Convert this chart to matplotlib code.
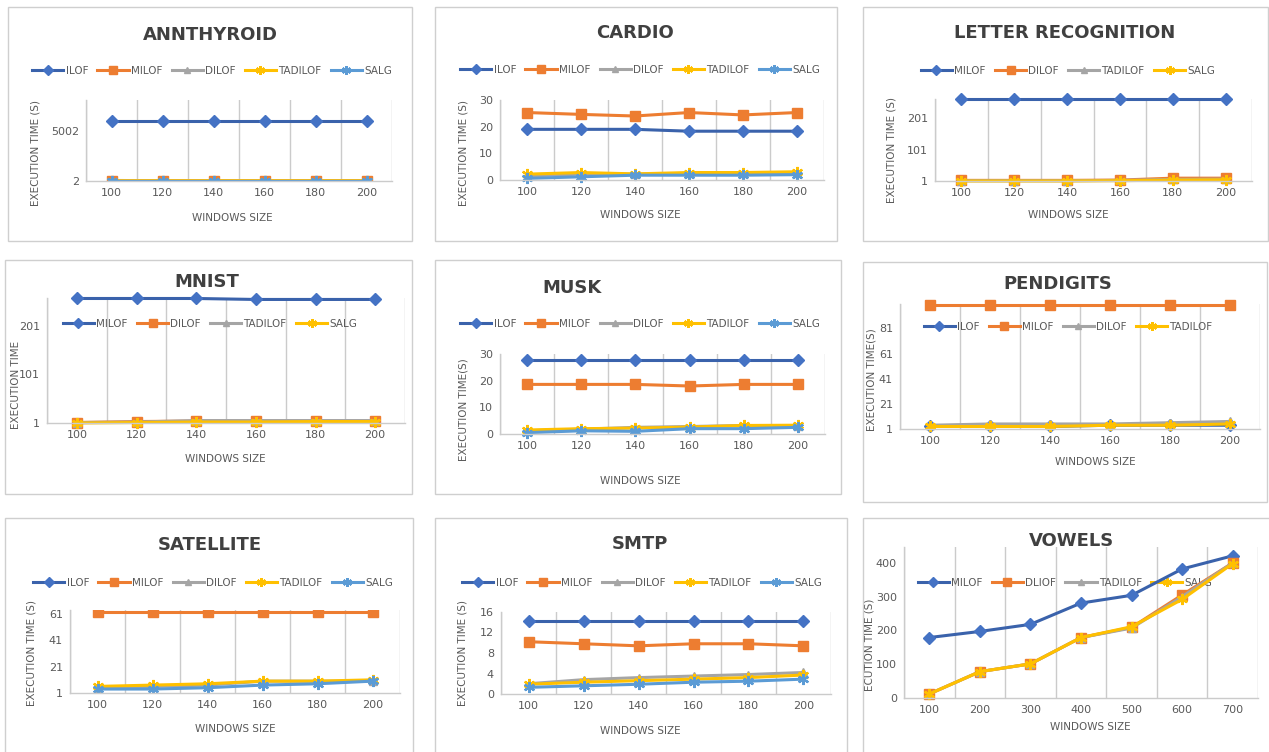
import matplotlib
matplotlib.use("Agg")
import matplotlib.pyplot as plt
from matplotlib.patches import Rectangle

plt.rcParams['font.family'] = ['DejaVu Sans']

W, H = 1269, 752

windows = [100, 120, 140, 160, 180, 200]
vowels_windows = [100, 200, 300, 400, 500, 600, 700]

# ANNTHYROID (SALG falls below the axis minimum, so it is not visible)
ann_ilof = [6000, 6000, 6000, 6000, 6000, 6000]
ann_milof = [40, 30, 30, 30, 30, 30]
ann_dilof = [60, 20, 20, 20, 20, 20]
ann_tadilof = [20, 25, 25, 25, 25, 25]
ann_salg = [1, 1, 1, 1, 1, 1]

# CARDIO
car_ilof = [19.0, 19.0, 19.0, 18.3, 18.3, 18.3]
car_milof = [25.3, 24.6, 24.0, 25.3, 24.4, 25.3]
car_dilof = [1.5, 2.2, 2.2, 2.5, 2.5, 2.6]
car_tadilof = [2.2, 2.8, 2.3, 2.8, 2.8, 3.1]
car_salg = [0.6, 1.2, 1.8, 1.8, 1.8, 2.0]

# LETTER RECOGNITION
let_milof = [261, 261, 261, 261, 261, 261]
let_dilof = [3, 3, 3, 4, 10, 10]
let_tadilof = [2, 2, 2, 3, 6, 7]
let_salg = [1, 1, 1, 2, 4, 5]

# MNIST
mn_milof = [257, 257, 257, 255, 255, 255]
mn_dilof = [2, 4, 5, 5, 5, 5]
mn_tadilof = [2, 3, 6, 6, 6, 6]
mn_salg = [1, 2, 3, 3, 4, 4]

# MUSK
mu_ilof = [27.6, 27.6, 27.6, 27.6, 27.6, 27.6]
mu_milof = [18.6, 18.6, 18.6, 18.0, 18.6, 18.6]
mu_dilof = [1.2, 1.8, 2.5, 2.8, 3.2, 3.0]
mu_tadilof = [1.5, 2.0, 2.2, 2.6, 3.2, 3.3]
mu_salg = [0.5, 1.2, 1.0, 2.0, 2.0, 2.5]

# PENDIGITS
pen_ilof = [3, 3, 3, 4, 4, 4]
pen_milof = [100, 100, 100, 100, 100, 100]
pen_dilof = [4, 5, 5, 5, 6, 7]
pen_tadilof = [3, 3, 3, 4, 4, 5]

# SATELLITE (ILOF is above the axis range, so it is not visible)
sat_ilof = [70, 70, 70, 70, 70, 70]
sat_milof = [62.5, 62.5, 62.5, 62.5, 62.5, 62.5]
sat_dilof = [5, 6, 7, 10, 10, 10]
sat_tadilof = [6, 7, 8, 10, 10, 11]
sat_salg = [4, 4, 5, 7, 8, 10]

# SMTP
sm_ilof = [14.2, 14.2, 14.2, 14.2, 14.2, 14.2]
sm_milof = [10.2, 9.8, 9.4, 9.8, 9.8, 9.4]
sm_dilof = [2.0, 2.8, 3.2, 3.5, 3.8, 4.2]
sm_tadilof = [1.9, 2.3, 2.6, 2.9, 3.2, 3.7]
sm_salg = [1.3, 1.6, 1.9, 2.3, 2.5, 2.9]

# VOWELS
vo_milof = [179, 197, 218, 281, 304, 382, 421]
vo_dilof = [12, 78, 101, 179, 209, 305, 400]
vo_tadilof = [12, 78, 101, 179, 207, 300, 400]
vo_salg = [12, 78, 101, 179, 211, 292, 398]

# excel-like series styles, by series order
styles = [
    dict(color='#3a62ab', marker='D', ms=6, mec='#4472c4', mfc='#4472c4'),
    dict(color='#ed7d31', marker='s', ms=7, mec='#ed7d31', mfc='#ed7d31'),
    dict(color='#a5a5a5', marker='^', ms=6, mec='#a5a5a5', mfc='#a5a5a5'),
    dict(color='#ffc000', marker=(6, 2, 0), ms=8, mec='#ffc000', mew=1.6),
    dict(color='#5b9bd5', marker=(6, 2, 0), ms=8, mec='#5b9bd5', mew=1.6),
]

TXT = '#595959'
GRID = '#cbcbcb'

fig = plt.figure(figsize=(W / 100, H / 100), dpi=100)
fig.patch.set_facecolor('white')


def fx(x):
    return x / W


def fy(y):
    return 1 - y / H


def panel(box, plot, title, title_xy, legend_xy, cats, names, series,
          ylim, yticks, ylabel, ylabel_xy, xlabel_xy, clip=False):
    x0, y0, x1, y1 = box
    fig.patches.append(Rectangle((fx(x0), fy(y1)), fx(x1 - x0), (y1 - y0) / H,
                                 transform=fig.transFigure, fill=False,
                                 edgecolor='#cfcfcf', linewidth=1.0))
    l, t, r, b = plot
    ax = fig.add_axes([fx(l), fy(b), fx(r - l), (b - t) / H])
    ax.set_facecolor('none')
    xs = list(range(len(cats)))
    handles = []
    for name, vals, st in zip(names, series, styles):
        h, = ax.plot(xs, vals, color=st['color'], lw=2.2, marker=st['marker'],
                     markersize=st['ms'], markeredgecolor=st['mec'],
                     markerfacecolor=st.get('mfc', 'none'),
                     markeredgewidth=st.get('mew', 1.0), clip_on=clip,
                     label=name)
        handles.append(h)
    ax.set_xlim(-0.5, len(cats) - 0.5)
    ax.set_ylim(*ylim)
    ax.set_xticks(xs)
    ax.set_xticklabels([str(c) for c in cats])
    ax.set_xticks([i - 0.5 for i in range(len(cats) + 1)], minor=True)
    ax.set_yticks(yticks)
    ax.set_yticklabels([str(v) for v in yticks])
    ax.grid(which='minor', axis='x', color=GRID, lw=1.0)
    ax.set_axisbelow(True)
    ax.tick_params(which='both', length=0, colors=TXT, labelsize=8, pad=5)
    for sp in ['top', 'right']:
        ax.spines[sp].set_visible(False)
    for sp in ['left', 'bottom']:
        ax.spines[sp].set_color(GRID)
        ax.spines[sp].set_linewidth(1.0)
    fig.text(fx(title_xy[0]), fy(title_xy[1]), title, ha='center', va='center',
             fontsize=13, fontweight='bold', color='#404040')
    leg = ax.legend(handles, names, loc='center',
                    bbox_to_anchor=(fx(legend_xy[0]), fy(legend_xy[1])),
                    bbox_transform=fig.transFigure, ncol=len(names), frameon=False,
                    fontsize=7.5, labelcolor=TXT, handlelength=3.0, markerscale=0.8,
                    handletextpad=0.2, columnspacing=0.9, borderaxespad=0)
    leg.set_zorder(1)
    fig.text(fx(ylabel_xy[0]), fy(ylabel_xy[1]), ylabel, rotation=90,
             ha='center', va='center', fontsize=7.5, color=TXT)
    fig.text(fx(xlabel_xy[0]), fy(xlabel_xy[1]), 'WINDOWS SIZE',
             ha='center', va='center', fontsize=7.5, color=TXT)
    return ax


five = ['ILOF', 'MILOF', 'DILOF', 'TADILOF', 'SALG']
four = ['MILOF', 'DILOF', 'TADILOF', 'SALG']
vowel_names = ['MILOF', 'DLIOF', 'TADILOF', 'SALG']

panel((8, 7, 412, 241), (86, 100, 392, 181), 'ANNTHYROID', (210, 35), (212, 71),
      windows, five, [ann_ilof, ann_milof, ann_dilof, ann_tadilof, ann_salg],
      (2, 8100), [2, 5002], 'EXECUTION TIME (S)', (35, 153), (232, 218), clip=True)

panel((435, 7, 837, 241), (500, 100, 824, 180), 'CARDIO', (635, 33), (640, 70),
      windows, five, [car_ilof, car_milof, car_dilof, car_tadilof, car_salg],
      (0, 30), [0, 10, 20, 30], 'EXECUTION TIME (S)', (463, 153), (640, 215))

panel((863, 7, 1268, 241), (935, 99, 1252, 181), 'LETTER RECOGNITION', (1065, 33),
      (1068, 71), windows, four, [let_milof, let_dilof, let_tadilof, let_salg],
      (1, 262), [1, 101, 201], 'EXECUTION TIME (S)', (892, 150), (1068, 215))

panel((5, 260, 412, 494), (47, 298, 405, 423), 'MNIST', (207, 282), (210, 324),
      windows, four, [mn_milof, mn_dilof, mn_tadilof, mn_salg],
      (1, 258), [1, 101, 201], 'EXECUTION TIME', (16, 385), (225, 459))

panel((435, 260, 841, 494), (500, 354, 825, 434), 'MUSK', (572, 288), (640, 324),
      windows, five, [mu_ilof, mu_milof, mu_dilof, mu_tadilof, mu_salg],
      (0, 30), [0, 10, 20, 30], 'EXECUTION TIME(S)', (463, 410), (640, 481))

panel((863, 262, 1267, 502), (900, 304, 1260, 429), 'PENDIGITS', (1058, 284),
      (1068, 327), windows, ['ILOF', 'MILOF', 'DILOF', 'TADILOF'],
      [pen_ilof, pen_milof, pen_dilof, pen_tadilof],
      (1, 100.5), [1, 21, 41, 61, 81], 'EXECUTION TIME(S)', (871, 380), (1095, 462))

panel((5, 518, 413, 760), (70, 610, 400, 693), 'SATELLITE', (210, 545), (213, 583),
      windows, five, [sat_ilof, sat_milof, sat_dilof, sat_tadilof, sat_salg],
      (1, 64), [1, 21, 41, 61], 'EXECUTION TIME (S)', (32, 653), (235, 729), clip=True)

panel((435, 518, 847, 760), (501, 612, 831, 694), 'SMTP', (640, 544), (642, 583),
      windows, five, [sm_ilof, sm_milof, sm_dilof, sm_tadilof, sm_salg],
      (0, 16), [0, 4, 8, 12, 16], 'EXECUTION TIME (S)', (462, 653), (640, 731))

panel((863, 518, 1270, 760), (904, 547, 1258, 698), 'VOWELS', (1072, 541),
      (1065, 583), vowels_windows, vowel_names, [vo_milof, vo_dilof, vo_tadilof, vo_salg],
      (0, 447), [0, 100, 200, 300, 400], 'ECUTION TIME (S)', (869, 645), (1090, 727))

fig.savefig('out.png', dpi=100, facecolor='white')
